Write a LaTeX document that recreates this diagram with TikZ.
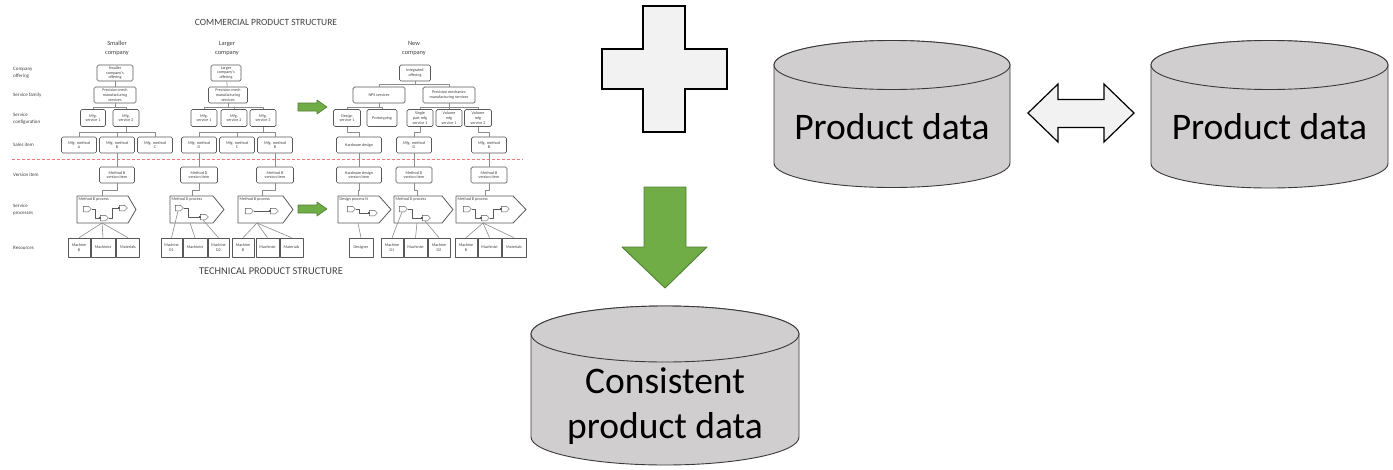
\documentclass[tikz,border=0pt]{standalone}
\usepackage{fontspec}
\setmainfont{Carlito}
\usepackage{xcolor}
\usepackage{tikz}
\usetikzlibrary{positioning,shapes.symbols,arrows.meta}

\definecolor{boxgray}{HTML}{595959}
\definecolor{linegray}{HTML}{8C8C8C}
\definecolor{txtgray}{HTML}{404040}
\definecolor{dashred}{HTML}{F07878}
\definecolor{arrgreen}{HTML}{70AD47}
\definecolor{arredge}{HTML}{507E32}
\definecolor{dbfill}{HTML}{D0CECE}
\definecolor{dbedge}{HTML}{3A3A3A}
\definecolor{plusfill}{HTML}{F2F2F2}

\tikzset{
  item/.style={draw=boxgray, line width=0.7pt, rounded corners=1.5pt, fill=white,
    align=center, inner sep=0.5pt, minimum height=16, text=txtgray,
    font=\fontsize{4.1}{4.6}\selectfont},
  cfg/.style={item, minimum height=17},
  res/.style={draw=boxgray, line width=0.6pt, fill=white, align=center, inner sep=0.5pt,
    minimum height=19, text=txtgray, font=\fontsize{4.1}{4.6}\selectfont},
  conn/.style={draw=linegray, line width=0.6pt},
  procline/.style={draw=boxgray, line width=0.8pt, fill=white, line join=round},
  proclab/.style={inner sep=0pt, text=txtgray, font=\fontsize{4.1}{4.6}\selectfont},
  gate/.style={signal, signal to=east, draw=boxgray, line width=0.5pt, fill=white,
    minimum width=8, minimum height=5.5, inner sep=0pt},
  gline/.style={draw=boxgray, line width=0.5pt, -{Square[length=1.4pt,width=1.4pt]}},
  rowlab/.style={anchor=west, align=left, inner sep=0pt, text=txtgray,
    font=\fontsize{5}{7}\selectfont},
  colhead/.style={align=center, inner sep=0pt, text=txtgray, font=\fontsize{6.4}{9}\selectfont},
  title/.style={inner sep=0pt, text=txtgray},
  redline/.style={color=dashred, line width=1pt, line cap=butt, dash pattern=on 3pt off 2pt},
  greenarrow/.style={fill=arrgreen, draw=arredge, line width=0.6pt},
  dbshape/.style={fill=dbfill, draw=dbedge, line width=0.9pt},
  dbtext/.style={align=center, inner sep=0pt, font=\fontsize{37.5}{45}\selectfont}
}

\newcommand{\procbox}[6]{%
  \draw[procline] (#2,196) -- (#3,196) -- (#4,209.5) -- (#3,223) -- (#2,223) -- cycle;
  \node[proclab, anchor=north west] (#1-lab) at (#2+1.5,197.8) {#5};
  \coordinate (#1-top) at (#6,196);
}

\newcommand{\dbcyl}[6]{%
  \draw[dbshape] (#2-#4,#3) -- (#2-#4,#6) arc[start angle=180, end angle=0, x radius=#4, y radius=#5]
    -- (#2+#4,#3) arc[start angle=0, end angle=-180, x radius=#4, y radius=#5] -- cycle;
  \draw[dbshape] (#2,#3) ellipse[x radius=#4, y radius=#5];
  \coordinate (#1) at (#2,#3);
}

\begin{document}
\begin{tikzpicture}[x=1pt, y=-1pt, line join=round]
  \useasboundingbox (0,0) rectangle (1393,469);

  % titles and row labels
  \node[title, font=\fontsize{9.5}{11}\selectfont] (ttop) at (266,22) {COMMERCIAL PRODUCT STRUCTURE};
  \node[title, font=\fontsize{10.4}{12}\selectfont] (tbot) at (271,271) {TECHNICAL PRODUCT STRUCTURE};
  \node[colhead] (hsmall) at (117,48.5) {Smaller\\company};
  \node[colhead] (hlarge) at (227,48.5) {Larger\\company};
  \node[colhead] (hnew) at (414,48.5) {New\\company};
  \node[rowlab] (loffer) at (13,72.5) {Company\\offering};
  \node[rowlab] (lfam) at (13,95) {Service family};
  \node[rowlab] (lconf) at (13,118.5) {Service\\configuration};
  \node[rowlab] (lsales) at (13,145) {Sales item};
  \node[rowlab] (lver) at (13,175) {Version item};
  \node[rowlab] (lproc) at (13,210) {Service\\processes};
  \node[rowlab] (lres) at (13,248) {Resources};
  \coordinate (dashL) at (12,159);
  \coordinate (dashR) at (523,159);
  \draw[redline] (dashL) -- (dashR);

  % smaller company
  \node[item, minimum width=36] (so) at (115,73) {Smaller\\company's\\offering};
  \node[item, minimum width=42] (sf) at (115,95) {Precision mech\\manufacturing\\services};
  \node[cfg, minimum width=25] (sc1) at (93,118) {Mfg.\\service 1};
  \node[cfg, minimum width=26] (sc2) at (126,118) {Mfg.\\service 2};
  \node[item, minimum width=35] (sa) at (79,145) {Mfg. method\\A};
  \node[item, minimum width=35] (sb) at (117,145) {Mfg. method\\B};
  \node[item, minimum width=35] (scc) at (155,145) {Mfg. method\\C};
  \node[item, minimum width=35] (sv) at (117,175) {Method B\\version item};
  \procbox{sp}{77}{128}{136}{Method B process}{102}
  \node[gate] (sg1) at (86,209) {};
  \node[gate] (sg2) at (103,218) {};
  \node[gate] (sg3) at (122,208) {};
  \coordinate (sp-foot) at (102,223);
  \node[res, minimum width=22] (sr1) at (79,247.5) {Machine\\B};
  \node[res, minimum width=24] (sr2) at (103,247.5) {Machinist};
  \node[res, minimum width=23] (sr3) at (128,247.5) {Materials};

  \draw[conn] (so) -- (sf);
  \draw[conn] (sf.south) -- ++(0,4) -| (sc1.north);
  \draw[conn] (sf.south) -- ++(0,4) -| (sc2.north);
  \foreach \n in {sa,sb,scc}
    \draw[conn] (sc2.south) -- ++(0,5.5) -| (\n.north);
  \draw[conn] (sb) -- (sv);
  \draw[conn] (sv.south) -- ++(0,7) -| (sp-top);
  \draw[gline] (sg1.east) -- ++(4,0) |- (sg2.west);
  \draw[gline] (sg2.east) -- ++(4,0) |- (sg3.west);
  \foreach \n in {sr1,sr2,sr3}
    \draw[conn] (sp-foot) -- (\n.north);

  % larger company
  \node[item, minimum width=30] (lo) at (226,73) {Larger\\company's\\offering};
  \node[item, minimum width=39] (lf) at (228,95) {Precision mech\\manufacturing\\services};
  \node[cfg, minimum width=26] (lc1) at (204,118) {Mfg.\\service 1};
  \node[cfg, minimum width=26] (lc2) at (234,118) {Mfg.\\service 2};
  \node[cfg, minimum width=26] (lc3) at (263,118) {Mfg.\\service 3};
  \node[item, minimum width=35] (ld) at (199,145) {Mfg. method\\D};
  \node[item, minimum width=35] (lcc) at (237,145) {Mfg. method\\C};
  \node[item, minimum width=35] (lb) at (275,145) {Mfg. method\\B};
  \node[item, minimum width=37] (lvd) at (199,175) {Method D\\version item};
  \node[item, minimum width=37] (lvb) at (275,175) {Method B\\version item};
  \procbox{lpd}{170}{213}{224}{Method D process}{192}
  \procbox{lpb}{238}{283}{293}{Method B process}{262}
  \node[gate] (lg1) at (178,208) {};
  \node[gate] (lg2) at (203,217) {};
  \node[gate] (lg3) at (248,211) {};
  \node[gate] (lg4) at (273,211) {};
  \coordinate (lpd-foot) at (190,223);
  \coordinate (lpb-foot) at (257,223);
  \node[res, minimum width=21] (lr1) at (171.5,247.5) {Machine\\D1};
  \node[res, minimum width=24] (lr2) at (195,247.5) {Machinist};
  \node[res, minimum width=21] (lr3) at (218.5,247.5) {Machine\\D2};
  \node[res, minimum width=22] (lr4) at (243,247.5) {Machine\\B};
  \node[res, minimum width=23] (lr5) at (267.5,247.5) {Machinist};
  \node[res, minimum width=23] (lr6) at (291.5,247.5) {Materials};

  \draw[conn] (lo) -- (lf);
  \foreach \n in {lc1,lc2,lc3}
    \draw[conn] (lf.south) -- ++(0,4) -| (\n.north);
  \foreach \n in {ld,lcc,lb}
    \draw[conn] (lc3.south) -- ++(0,5.5) -| (\n.north);
  \draw[conn] (ld) -- (lvd);
  \draw[conn] (lb) -- (lvb);
  \draw[conn] (lvd.south) -- ++(0,7) -| (lpd-top);
  \draw[conn] (lvb.south) -- ++(0,7) -| (lpb-top);
  \draw[gline] (lg1.east) -- ++(5,0) |- (lg2.west);
  \draw[gline] (lg3) -- (lg4.west);
  \draw[conn] (lg1.south) -- (lr1.north);
  \draw[conn] (lpd-foot) -- (lr2.north);
  \draw[conn] (lg2.south) -- (lr3.north);
  \foreach \n in {lr4,lr5,lr6}
    \draw[conn] (lpb-foot) -- (\n.north);

  % green arrows between structures
  \coordinate (ga1) at (298,107);
  \coordinate (ga2) at (298,209);
  \foreach \c in {ga1,ga2}
    \draw[greenarrow] (\c) ++(0,-4) -- ++(19,0) -- ++(0,-3) -- ++(10,7) -- ++(-10,7) -- ++(0,-3) -- ++(-19,0) -- cycle;

  % new company
  \node[item, minimum width=31] (no) at (415,73) {Integrated\\offering};
  \node[item, minimum width=52] (nn) at (379,95) {NPS services};
  \node[item, minimum width=52] (np) at (449,95) {Precision mechanics\\manufacturing services};
  \node[cfg, minimum width=27] (nc1) at (347,118) {Design\\service 1};
  \node[cfg, minimum width=30] (nc2) at (382,118) {Prototyping};
  \node[cfg, minimum width=26] (nc3) at (420,118) {Single\\part mfg\\service 1};
  \node[cfg, minimum width=26] (nc4) at (449,118) {Volume\\mfg\\service 1};
  \node[cfg, minimum width=27] (nc5) at (478,118) {Volume\\mfg\\service 2};
  \node[item, minimum width=45] (nh) at (359,145) {Hardware design};
  \node[item, minimum width=35] (nd) at (414,145) {Mfg. method\\D};
  \node[item, minimum width=35] (nb) at (489,145) {Mfg. method\\B};
  \node[item, minimum width=45] (nvh) at (359,175) {Hardware design\\version item};
  \node[item, minimum width=36] (nvd) at (414,175) {Method D\\version item};
  \node[item, minimum width=36] (nvb) at (489,175) {Method B\\version item};
  \procbox{npn}{338}{379}{391}{Design process N}{358}
  \procbox{npd}{394}{442}{453}{Method D process}{417}
  \procbox{npb}{456}{513}{526}{Method B process}{485}
  \node[gate] (ng1) at (350,209) {};
  \node[gate] (ng2) at (372,213) {};
  \node[gate] (ng3) at (402,209) {};
  \node[gate] (ng4) at (425,218) {};
  \node[gate] (ng5) at (466,209) {};
  \node[gate] (ng6) at (484,218) {};
  \node[gate] (ng7) at (504,209) {};
  \coordinate (npn-foot) at (358,223);
  \coordinate (npd-foot) at (417,223);
  \coordinate (npb-foot) at (483,223);
  \node[res, minimum width=24] (nr1) at (361,247.5) {Designer};
  \node[res, minimum width=22] (nr2) at (392,247.5) {Machine\\D1};
  \node[res, minimum width=23] (nr3) at (415.5,247.5) {Machinist};
  \node[res, minimum width=22] (nr4) at (439,247.5) {Machine\\D2};
  \node[res, minimum width=22] (nr5) at (466,247.5) {Machine\\B};
  \node[res, minimum width=23] (nr6) at (489.5,247.5) {Machinist};
  \node[res, minimum width=24] (nr7) at (514,247.5) {Materials};

  \draw[conn] (no.south) -- ++(0,3) -| (nn.north);
  \draw[conn] (no.south) -- ++(0,3) -| (np.north);
  \draw[conn] (nn.south) -- ++(0,4) -| (nc1.north);
  \draw[conn] (nn.south) -- ++(0,4) -| (nc2.north);
  \foreach \n in {nc3,nc4,nc5}
    \draw[conn] (np.south) -- ++(0,4) -| (\n.north);
  \draw[conn] (nc1.south) -- ++(0,5) -| (nh.north);
  \draw[conn] (nc3.south) -- ++(0,5) -| (nd.north);
  \draw[conn] (nc5.south) -- ++(0,5) -| (nb.north);
  \draw[conn] (nh) -- (nvh);
  \draw[conn] (nd) -- (nvd);
  \draw[conn] (nb) -- (nvb);
  \draw[conn] (nvh.south) -- ++(0,7) -| (npn-top);
  \draw[conn] (nvd.south) -- ++(0,7) -| (npd-top);
  \draw[conn] (nvb.south) -- ++(0,7) -| (npb-top);
  \draw[gline] (ng1.east) -- ++(4,0) |- (ng2.west);
  \draw[gline] (ng3.east) -- ++(5,0) |- (ng4.west);
  \draw[gline] (ng5.east) -- ++(4,0) |- (ng6.west);
  \draw[gline] (ng6.east) -- ++(4,0) |- (ng7.west);
  \draw[conn] (npn-foot) -- (nr1.north);
  \draw[conn] (ng3.south) -- (nr2.north);
  \draw[conn] (npd-foot) -- (nr3.north);
  \draw[conn] (ng4.south) -- (nr4.north);
  \foreach \n in {nr5,nr6,nr7}
    \draw[conn] (npb-foot) -- (\n.north);

  % plus sign
  \draw[fill=plusfill, draw=black, line width=2.2pt, line join=miter]
    (643,6) -- (685,6) -- (685,49) -- (727,49) -- (727,89) -- (685,89) -- (685,132)
    -- (643,132) -- (643,89) -- (602,89) -- (602,49) -- (643,49) -- cycle;

  % databases
  \dbcyl{db1}{892}{65}{118}{24.5}{163}
  \dbcyl{db2}{1269.5}{65}{118.5}{24.5}{163.5}
  \dbcyl{db3}{665}{334}{134}{28}{437}
  \node[dbtext] (pd1) at (892,127) {Product data};
  \node[dbtext] (pd2) at (1269.5,127) {Product data};
  \node[dbtext] (cpd) at (665,406) {Consistent\\product data};

  % double arrow between databases
  \draw[fill=plusfill, draw=black, line width=1.2pt, line join=miter]
    (1028,113) -- (1058,84) -- (1058,99.5) -- (1104,99.5) -- (1104,84) -- (1134,113)
    -- (1104,142) -- (1104,127.5) -- (1058,127.5) -- (1058,142) -- cycle;

  % big green arrow
  \draw[greenarrow, line width=0.9pt]
    (644,187) -- (686,187) -- (686,247) -- (707,247) -- (665,288) -- (622,247) -- (644,247) -- cycle;
\end{tikzpicture}
\end{document}
